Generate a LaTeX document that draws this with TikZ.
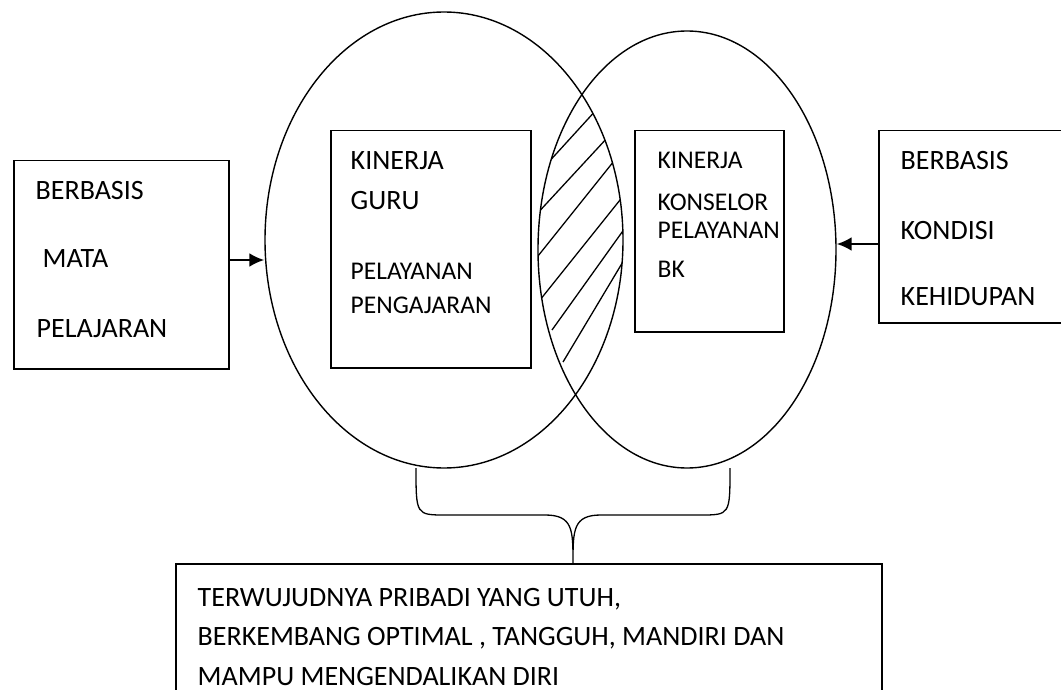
\documentclass[tikz,border=0pt]{standalone}
\usepackage{fontspec}
\setmainfont{Carlito}
\usetikzlibrary{arrows.meta,shapes.geometric}
\begin{document}
\begin{tikzpicture}[x=1pt,y=-1pt,
  line width=1.4pt,
  box/.style={draw, rectangle, inner sep=0pt, anchor=north west, line width=1.5pt},
  oval/.style={draw, ellipse, inner sep=0pt, line width=1.4pt},
  lbl/.style={anchor=base west, inner sep=0pt, font=\fontsize{28}{32}\selectfont},
  lbls/.style={anchor=base west, inner sep=0pt, font=\fontsize{25.5}{29}\selectfont},
  arr/.style={-{Latex[length=15pt,width=14pt]}, line width=2.4pt},
  hatch/.style={line width=1.3pt}]
\useasboundingbox (0,0) rectangle (1061,690);
\fill[white] (0,0) rectangle (1061,690);
% ellipses
\node[oval, minimum width=358pt, minimum height=456pt] (lell) at (444,240) {};
\node[oval, minimum width=298pt, minimum height=437pt] (rell) at (687,249.5) {};
% hatching in the lens
\begin{scope}
  \clip (444,240) ellipse [x radius=179pt, y radius=228pt];
  \clip (687,249.5) ellipse [x radius=149pt, y radius=218.5pt];
  \draw[hatch] (546,165) -- (598,108);
  \draw[hatch] (534,217) -- (608,137);
  \draw[hatch] (534,261) -- (618,156);
  \draw[hatch] (536,305) -- (628,190);
  \draw[hatch] (552,330) -- (630,221);
  \draw[hatch] (563,362) -- (630,250);
\end{scope}
% boxes
\node[box, minimum width=215pt, minimum height=208pt] (lbox) at (13,160) {};
\node[box, minimum width=200pt, minimum height=237pt] (gbox) at (330,130) {};
\node[box, minimum width=149pt, minimum height=201pt] (kbox) at (634,130) {};
\node[box, minimum width=200pt, minimum height=192pt] (rbox) at (878,130) {};
\node[box, minimum width=706pt, minimum height=140pt] (bbox) at (175,563) {};
% arrows
\draw[arr] (lbox.east |- 0,260) -- (lell.west |- 0,260);
\draw[arr] (rbox.west |- 0,244) -- (rell.east |- 0,244);
% brace
\coordinate (bl) at (416,468);
\coordinate (br) at (730,468);
\draw[line width=1.3pt] (bl) .. controls (416,515) and (416,515) .. (446,515) -- (545,515)
  .. controls (573,515) and (573,530) .. (bbox.north -| 573,0)
  .. controls (573,530) and (573,515) .. (601,515) -- (700,515)
  .. controls (730,515) and (730,515) .. (br);
% texts
\node[lbl] (t1) at (35,200) {BERBASIS};
\node[lbl] (t2) at (42,267) {MATA};
\node[lbl] (t3) at (36,337) {PELAJARAN};
\node[lbl] (t4) at (350,170) {KINERJA};
\node[lbl] (t5) at (350,210) {GURU};
\node[lbls] (t6) at (350,279) {PELAYANAN};
\node[lbls] (t7) at (350,313) {PENGAJARAN};
\node[lbls] (t8) at (657,169) {KINERJA};
\node[lbls] (t9) at (657,211) {KONSELOR};
\node[lbls] (t10) at (657,238) {PELAYANAN};
\node[lbls] (t11) at (657,277) {BK};
\node[lbl] (t12) at (900,170) {BERBASIS};
\node[lbl] (t13) at (900,240) {KONDISI};
\node[lbl] (t14) at (900,305) {KEHIDUPAN};
\node[lbl] (t15) at (197,606) {TERWUJUDNYA PRIBADI YANG UTUH,};
\node[lbl] (t16) at (197,645) {BERKEMBANG OPTIMAL , TANGGUH, MANDIRI DAN};
\node[lbl] (t17) at (197,685) {MAMPU MENGENDALIKAN DIRI};
\end{tikzpicture}
\end{document}
